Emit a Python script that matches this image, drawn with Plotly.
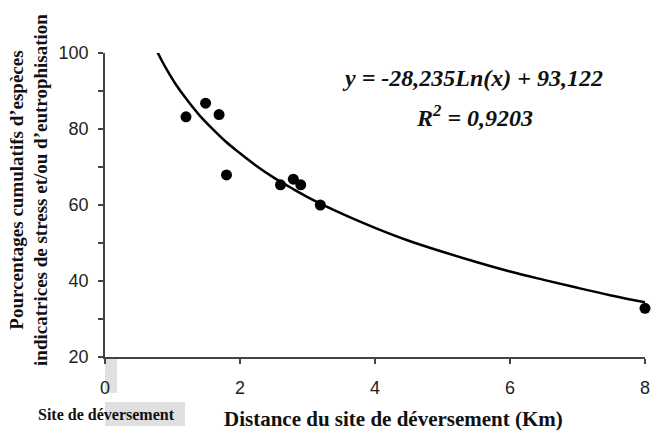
import plotly.graph_objects as go

# Observed data points (distance km, cumulative %)
dist_km = [1.2, 1.49, 1.69, 1.8, 2.6, 2.79, 2.9, 3.19, 8.0]
pct = [83.2, 86.8, 83.8, 67.9, 65.3, 66.8, 65.3, 60.0, 32.8]

# Trend curve
curve_x = [0.77, 0.85, 0.95, 1.05, 1.2, 1.4, 1.6, 1.8, 2.0, 2.25, 2.5, 2.75, 3.0, 3.5, 4.0, 4.5, 5.0, 5.5, 6.0, 6.5, 7.0, 7.5, 8.0]
curve_y = [100.5, 97.7, 94.6, 91.7, 88.0, 83.6, 79.9, 76.5, 73.6, 70.2, 67.2, 64.6, 62.1, 57.8, 54.0, 50.6, 47.7, 45.0, 42.5, 40.3, 38.2, 36.2, 34.4]

x_ticks = [0, 2, 4, 6, 8]
y_ticks = [20, 40, 60, 80, 100]

equation = "y = -28,235Ln(x) + 93,122"
r2_text = "R<sup>2</sup> = 0,9203"

axis_col = "#444444"
serif = "Liberation Serif, Times New Roman, serif"
sans = "Liberation Sans, Arial, sans-serif"

fig = go.Figure()
fig.add_trace(go.Scatter(x=curve_x, y=curve_y, mode="lines", line=dict(color="black", width=2.5, shape="spline"),
                         showlegend=False, hoverinfo="skip"))
fig.add_trace(go.Scatter(x=dist_km, y=pct, mode="markers", marker=dict(color="black", size=11),
                         showlegend=False, cliponaxis=False))

fig.update_layout(
    width=652, height=434,
    margin=dict(l=105, r=7, t=53, b=77, autoexpand=False),
    paper_bgcolor="white", plot_bgcolor="white",
    font=dict(family=sans, color="#222222"),
    xaxis=dict(range=[0, 8], tickvals=x_ticks, ticks="outside", ticklen=5, tickcolor=axis_col, tickwidth=1.5,
               showline=True, linecolor=axis_col, linewidth=1.5, showgrid=False, zeroline=False, automargin=False,
               tickfont=dict(size=18, family=sans, color="#222222"), ticklabelstandoff=9),
    yaxis=dict(range=[20, 100], tickvals=y_ticks, ticks="outside", ticklen=5, tickcolor=axis_col, tickwidth=1.5,
               showline=True, linecolor=axis_col, linewidth=1.5, showgrid=False, zeroline=False, automargin=False,
               tickfont=dict(size=18, family=sans, color="#222222"), ticklabelstandoff=6,
               minor=dict(dtick=10, ticks="outside", ticklen=5, tickcolor=axis_col, tickwidth=1.5, showgrid=False)),
)

# grey box behind "0" tick label
fig.add_shape(type="rect", xref="x", yref="paper", x0=-0.19, x1=0.18, y0=-0.003, y1=-0.118,
              fillcolor="#e0e0e0", line=dict(width=0), layer="below")
# "Site de déversement" box
fig.add_shape(type="rect", xref="x", yref="paper", x0=-1.156, x1=1.185, y0=-0.148, y1=-0.227,
              fillcolor="#e0e0e0", line=dict(width=0), layer="below")
fig.add_annotation(x=0.015, y=-0.1875, xref="x", yref="paper", xanchor="center", yanchor="middle",
                   text="<b>Site de déversement</b>",
                   showarrow=False, font=dict(family=serif, size=16, color="#111111"))

# x-axis title
fig.add_annotation(x=4.27, y=-0.2515, xref="x", yref="paper", xanchor="center", yanchor="bottom",
                   text="<b>Distance du site de déversement (Km)</b>",
                   showarrow=False, font=dict(family=serif, size=21, color="#111111"))
# y-axis title
fig.add_annotation(x=-0.141, y=0.549, xref="paper", yref="paper", xanchor="center", yanchor="middle", textangle=-90,
                   text="<b>Pourcentages cumulatifs d’espèces<br>indicatrices de stress et/ou d’eutrophisation</b>",
                   showarrow=False, font=dict(family=serif, size=19, color="#111111"))

# equation
fig.add_annotation(x=5.44, y=93.4, xref="x", yref="y", xanchor="center", yanchor="middle",
                   text="<b><i>" + equation + "</i></b>",
                   showarrow=False, font=dict(family=serif, size=24, color="#111111"))
fig.add_annotation(x=5.47, y=83.5, xref="x", yref="y", xanchor="center", yanchor="middle",
                   text="<b><i>" + r2_text + "</i></b>",
                   showarrow=False, font=dict(family=serif, size=24, color="#111111"))

fig.write_html("out.html", config={"displayModeBar": False},
               post_script="document.body.style.margin='0px';")
